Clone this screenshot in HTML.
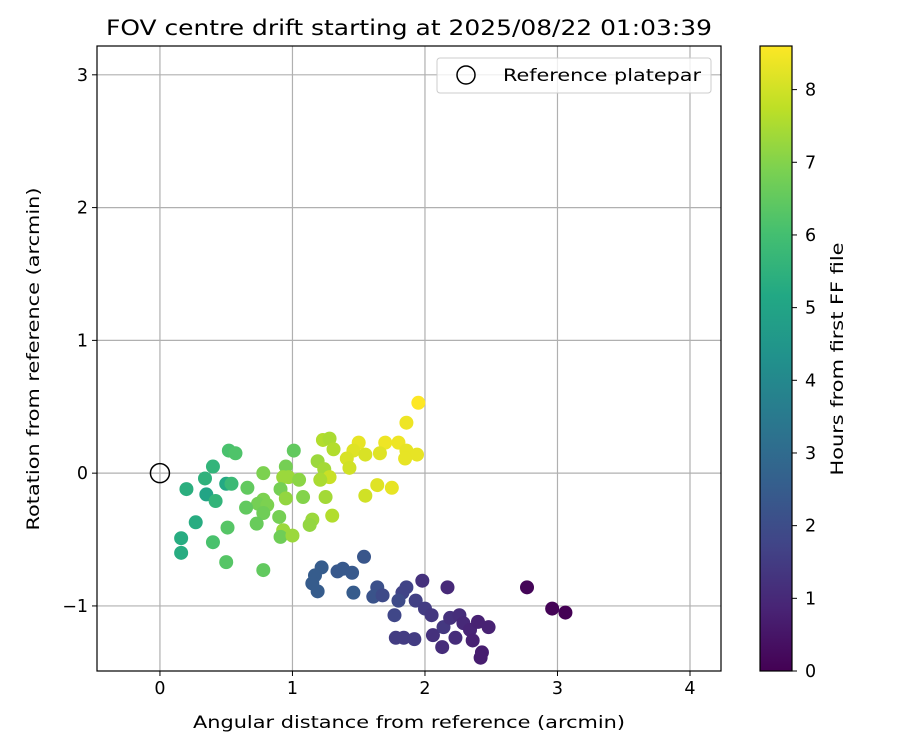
<!DOCTYPE html>
<html><head><meta charset="utf-8">
<style>
body{margin:0;background:#fff;}
svg text{font-family:"DejaVu Sans","Liberation Sans",sans-serif;fill:#000;}
</style></head>
<body>
<svg id="chart" width="900" height="750" xmlns="http://www.w3.org/2000/svg">
<rect width="900" height="750" fill="#fff"/>
<text x="409" y="35" font-size="21" text-anchor="middle" textLength="606" lengthAdjust="spacingAndGlyphs">FOV centre drift starting at 2025/08/22 01:03:39</text>
<text x="409" y="728" font-size="17" text-anchor="middle" textLength="432" lengthAdjust="spacingAndGlyphs">Angular distance from reference (arcmin)</text>
<text x="0" y="0" font-size="17" text-anchor="middle" textLength="343" lengthAdjust="spacingAndGlyphs" transform="translate(39,359) rotate(-90)">Rotation from reference (arcmin)</text>
<text x="0" y="0" font-size="17" text-anchor="middle" textLength="233" lengthAdjust="spacingAndGlyphs" transform="translate(843,359) rotate(-90)">Hours from first FF file</text>
<g id="grid"></g>
<g id="points"></g>
<g id="axes"></g>
<g id="cbar"></g>
<g>
<rect x="437" y="58" width="274" height="35" rx="3" fill="#fff" fill-opacity="0.8" stroke="#ccc"/>
<circle cx="466" cy="75" r="9" fill="none" stroke="#000" stroke-width="1.5"/>
<text x="503" y="81" font-size="17" textLength="198" lengthAdjust="spacingAndGlyphs">Reference platepar</text>
</g>
</svg>
<script>
const xs=[1.54,1.22,1.17,1.15,1.19,1.34,1.38,1.45,1.46,1.64,1.61,1.68,1.86,1.83,1.80,1.98,2.17,1.93,2.00,2.05,1.77,1.78,1.84,1.92,2.06,2.13,2.14,2.19,2.26,2.29,2.23,2.34,2.36,2.40,2.48,2.43,2.42,2.77,2.96,3.06,
1.95,1.86,1.50,1.70,1.80,1.46,1.55,1.41,1.43,1.66,1.86,1.94,1.85,1.64,1.75,1.55,1.23,1.28,1.31,1.19,1.24,1.28,1.21,1.25,1.30,1.15,1.13,1.01,0.95,0.93,0.97,1.05,0.91,0.95,1.08,0.78,0.66,0.78,0.74,0.81,0.78,0.65,0.90,0.73,0.93,0.91,1.00,0.51,0.40,0.50,0.78,0.52,0.57,0.40,0.34,0.20,0.35,0.42,0.50,0.54,0.27,0.16,0.16];
const ys=[-0.63,-0.71,-0.77,-0.83,-0.89,-0.74,-0.72,-0.75,-0.90,-0.86,-0.93,-0.92,-0.86,-0.90,-0.96,-0.81,-0.86,-0.96,-1.02,-1.07,-1.07,-1.24,-1.24,-1.25,-1.22,-1.31,-1.16,-1.09,-1.07,-1.13,-1.24,-1.18,-1.26,-1.12,-1.16,-1.35,-1.39,-0.86,-1.02,-1.05,
0.53,0.38,0.23,0.23,0.23,0.17,0.14,0.11,0.04,0.15,0.17,0.14,0.11,-0.09,-0.11,-0.17,0.25,0.26,0.18,0.09,0.03,-0.03,-0.05,-0.18,-0.32,-0.35,-0.39,0.17,0.05,-0.03,-0.03,-0.05,-0.12,-0.19,-0.18,0.00,-0.11,-0.20,-0.23,-0.24,-0.30,-0.26,-0.33,-0.38,-0.43,-0.48,-0.47,-0.41,-0.52,-0.67,-0.73,0.17,0.15,0.05,-0.04,-0.12,-0.16,-0.21,-0.08,-0.08,-0.37,-0.49,-0.60];
const hours=[2.3,2.5,2.5,2.5,2.5,2.4,2.4,2.4,2.5,2.1,2.2,1.9,1.7,1.7,1.9,1.2,1.0,1.6,1.5,1.4,1.8,1.5,1.5,1.5,1.2,1.1,1.4,1.2,1.1,1.0,1.1,0.9,0.8,0.8,0.8,0.7,0.7,0.1,0.05,0,
8.6,8.4,8.3,8.4,8.4,8.2,8.1,8.1,8.0,8.2,8.3,8.3,8.3,8.2,8.3,8.0,7.6,7.5,7.6,7.3,7.4,7.9,7.5,7.4,7.6,7.3,7.2,6.5,6.8,7.3,7.3,7.1,6.8,7.2,7.0,6.9,6.5,6.9,6.8,6.9,6.7,6.5,6.8,6.6,7.3,6.7,7.3,6.3,6.1,6.3,6.5,6.1,6.2,5.6,5.5,5.4,5.0,5.6,5.2,5.8,5.3,5.3,5.3];
const xTicks=[0,1,2,3,4];
const yTicks=[-1,0,1,2,3];
const cTicks=[0,1,2,3,4,5,6,7,8];
const xMin=-0.475,xMax=4.234,yMin=-1.49,yMax=3.217,hMax=8.6;
const L=97,R=721,T=46,B=671;
const X=v=>L+(v-xMin)/(xMax-xMin)*(R-L);
const Y=v=>B-(v-yMin)/(yMax-yMin)*(B-T);
const CY=h=>B-h/hMax*(B-T);
const vir=["#440154","#482475","#414487","#355f8d","#2a788e","#21918c","#22a884","#44bf70","#7ad151","#bddf26","#fde725"];
function hex(c){return [1,3,5].map(i=>parseInt(c.substr(i,2),16));}
function cmap(t){t=Math.max(0,Math.min(1,t))*10;const i=Math.min(9,Math.floor(t)),f=t-i;const a=hex(vir[i]),b=hex(vir[i+1]);return "rgb("+a.map((v,k)=>Math.round(v+(b[k]-v)*f)).join(",")+")";}
const NS="http://www.w3.org/2000/svg";
function mk(tag,attrs,parent){const e=document.createElementNS(NS,tag);for(const k in attrs)e.setAttribute(k,attrs[k]);parent.appendChild(e);return e;}
const grid=document.getElementById('grid'),axes=document.getElementById('axes'),pts=document.getElementById('points'),cb=document.getElementById('cbar');
xTicks.forEach(t=>{const x=X(t);
const g=mk('line',{x1:x,x2:x,y1:T,y2:B,stroke:'#b0b0b0','stroke-width':1.2},grid);


const tk=mk('line',{x1:x,x2:x,y1:B,y2:B+5,stroke:'#000','stroke-width':1},axes);


const lb=mk('text',{x:x,y:B+23,'font-size':17.5,'text-anchor':'middle'},axes);lb.textContent=t;

});
yTicks.forEach(t=>{const y=Y(t);
const g=mk('line',{x1:L,x2:R,y1:y,y2:y,stroke:'#b0b0b0','stroke-width':1.2},grid);


const tk=mk('line',{x1:L-5,x2:L,y1:y,y2:y,stroke:'#000','stroke-width':1},axes);


const lb=mk('text',{x:L-9,y:y+6,'font-size':17.5,'text-anchor':'end'},axes);lb.textContent=(t<0?'\u2212'+(-t):t);

});
const fr=mk('rect',{x:L,y:T,width:R-L,height:B-T,fill:'none',stroke:'#000','stroke-width':1.2},axes);


xs.forEach((v,i)=>{const c=mk('circle',{cx:X(v),cy:Y(ys[i]),r:7,fill:cmap(hours[i]/hMax)},pts);

});
const ref=mk('circle',{cx:X(0),cy:Y(0),r:9.5,fill:'none',stroke:'#000','stroke-width':1.5},pts);


const defs=mk('defs',{},cb);const gr=mk('linearGradient',{id:'vg',x1:0,y1:1,x2:0,y2:0},defs);
vir.forEach((c,i)=>mk('stop',{offset:i/10,'stop-color':c},gr));
const cr=mk('rect',{x:760,y:T,width:32,height:B-T,fill:'url(#vg)',stroke:'#000','stroke-width':1.2},cb);


cTicks.forEach(t=>{const y=CY(t);
const tk=mk('line',{x1:792,x2:797,y1:y,y2:y,stroke:'#000','stroke-width':1},cb);


const lb=mk('text',{x:805,y:y+6,'font-size':17.5},cb);lb.textContent=t;

});
</script>
</body></html>
